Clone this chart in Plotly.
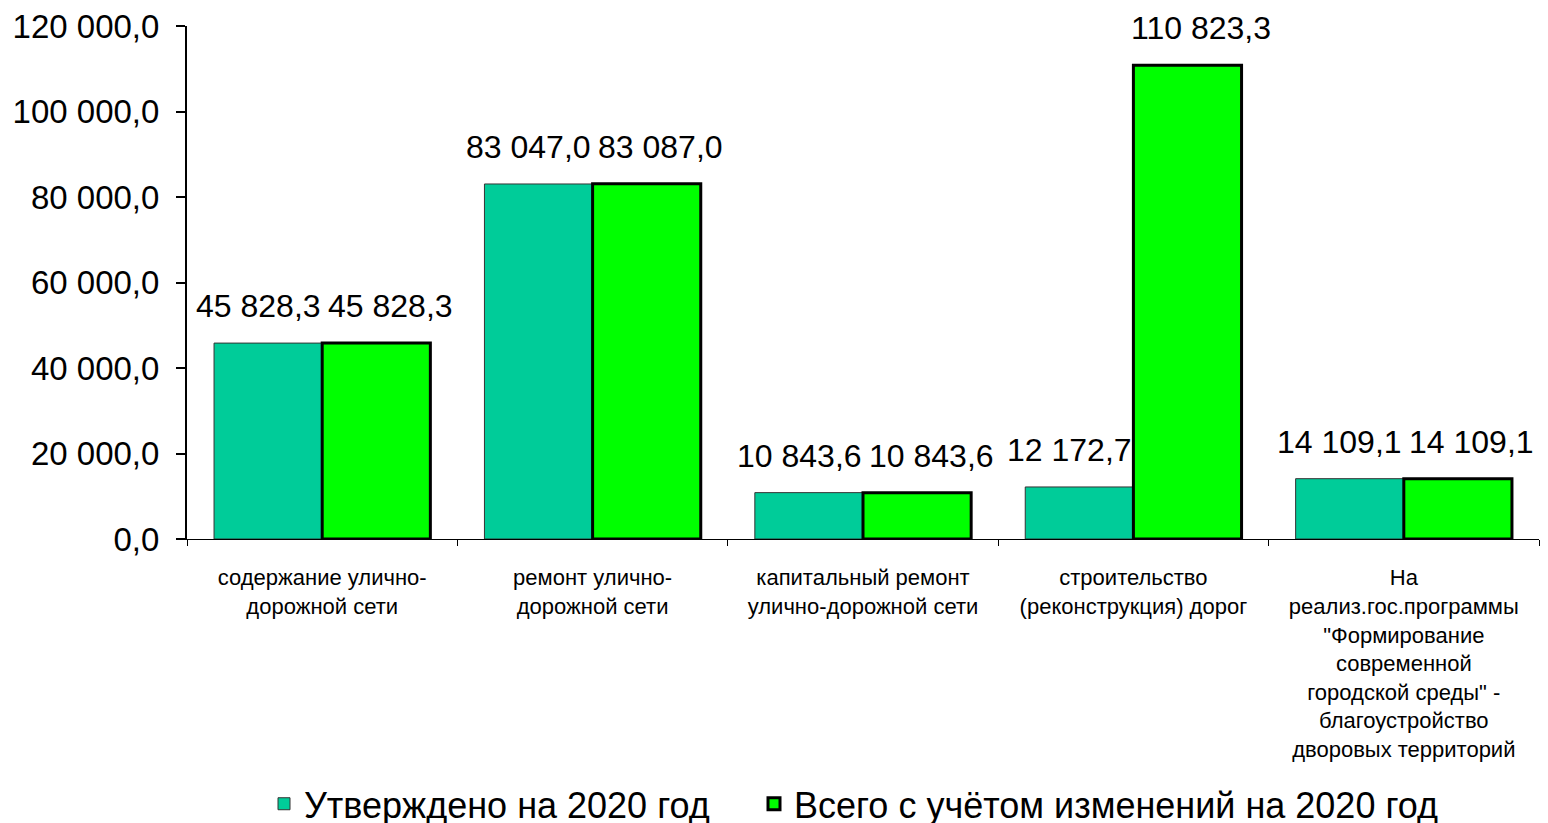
import plotly.graph_objects as go

categories = [
    "содержание улично-<br>дорожной сети",
    "ремонт улично-<br>дорожной сети",
    "капитальный ремонт<br>улично-дорожной сети",
    "строительство<br>(реконструкция) дорог",
    "На<br>реализ.гос.программы<br>\"Формирование<br>современной<br>городской среды\" -<br>благоустройство<br>дворовых территорий",
]
approved = [45828.3, 83047.0, 10843.6, 12172.7, 14109.1]
total = [45828.3, 83087.0, 10843.6, 110823.3, 14109.1]
series_names = ["Утверждено на 2020 год", "Всего с учётом изменений на 2020 год"]
y_ticks = [0, 20000, 40000, 60000, 80000, 100000, 120000]

FONT = "Liberation Sans, Arial, sans-serif"


def fmt(v):
    return f"{v:,.1f}".replace(",", " ").replace(".", ",")


fig = go.Figure()
fig.add_trace(go.Bar(
    x=categories, y=approved, name=series_names[0], legend="legend",
    marker=dict(color="#00CC99", line=dict(color="#333333", width=1)),
))
fig.add_trace(go.Bar(
    x=categories, y=total, name=series_names[1], legend="legend2",
    marker=dict(color="#00FF00", line=dict(color="#000000", width=3)),
))

# value labels above bars (Excel style, slightly offset)
for vals, dx in ((approved, -64), (total, 68)):
    for c, v in zip(categories, vals):
        fig.add_annotation(
            x=c, y=v, text=fmt(v), showarrow=False,
            xshift=dx, yshift=37, yanchor="middle",
            font=dict(family=FONT, size=32, color="#000000"),
        )

legend_style = dict(
    orientation="h", xref="container", yref="container",
    xanchor="left", y=0.033, yanchor="middle",
    font=dict(family=FONT, size=36), bgcolor="rgba(0,0,0,0)",
)

fig.update_layout(
    width=1548, height=823,
    paper_bgcolor="white", plot_bgcolor="white",
    margin=dict(l=179, r=17, t=18, b=292, autoexpand=False),
    barmode="group", bargap=0.2, bargroupgap=0,
    font=dict(family=FONT, color="#000000"),
    separators=", ",
    showlegend=True,
    legend=dict(legend_style, x=256 / 1548),
    legend2=dict(legend_style, x=746 / 1548),
)
fig.update_yaxes(
    range=[0, 120000], tickvals=y_ticks, tickformat=",.1f",
    showgrid=False, zeroline=False, automargin=False,
    showline=True, linecolor="#000000", linewidth=2,
    ticks="outside", ticklen=9, tickwidth=2, tickcolor="#000000",
    tickfont=dict(family=FONT, size=33), ticklabelstandoff=10,
    ticklabeloverflow="allow",
)
fig.update_xaxes(
    showgrid=False, showline=True, linecolor="#000000", linewidth=1,
    ticks="outside", tickson="boundaries", ticklen=6, tickcolor="#000000",
    tickfont=dict(family=FONT, size=22), tickangle=0, automargin=False,
    ticklabelstandoff=19,
)

fig.write_html("out.html")
